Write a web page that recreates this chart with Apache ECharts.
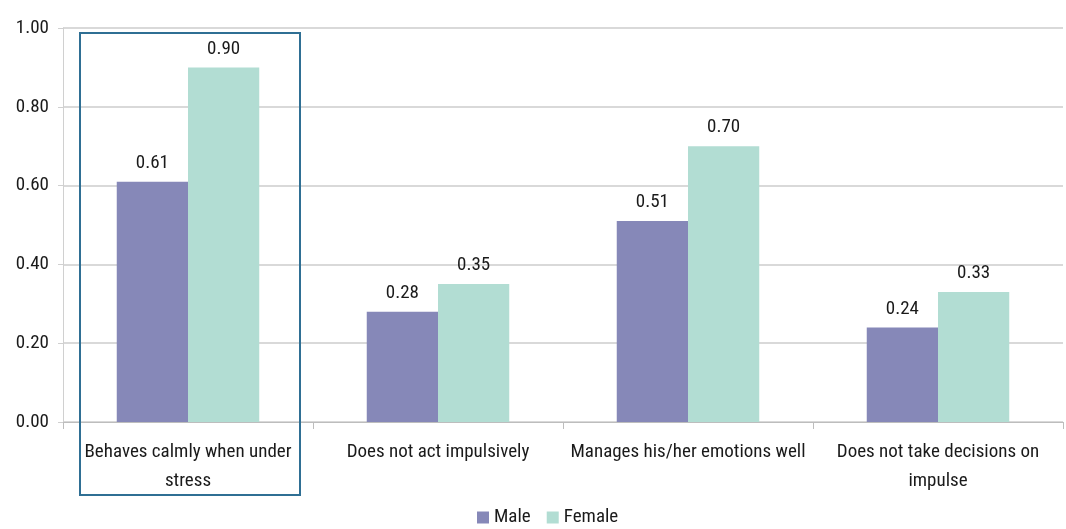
<!DOCTYPE html>
<html><head><meta charset="utf-8">
<script src="https://cdn.jsdelivr.net/npm/echarts@6/dist/echarts.min.js"></script>
<style>html,body{margin:0;padding:0;background:#fff}#c{width:1066px;height:529px}</style>
</head><body><div id="c"></div>
<script>
var categories = ['Behaves calmly when under\nstress', 'Does not act impulsively', 'Manages his/her emotions well', 'Does not take decisions on\nimpulse'];
var male = [0.61, 0.28, 0.51, 0.24];
var female = [0.90, 0.35, 0.70, 0.33];
var yTicks = [0, 0.2, 0.4, 0.6, 0.8, 1.0];

var FONT = '"Roboto Condensed", sans-serif';
var FS = 19;
var chart = echarts.init(document.getElementById('c'));
var lbl = {show:true, position:'top', distance:9, formatter:function(p){return p.value.toFixed(2);}, color:'#1a1a1a', fontSize:FS, fontFamily:FONT};
chart.setOption({
  animation:false,
  backgroundColor:'#fff',
  grid:{left:63, right:3, top:28, bottom:107, containLabel:false},
  legend:{bottom:-3, left:472, itemWidth:12, itemHeight:12, itemGap:16, icon:'rect',
    textStyle:{fontSize:FS, fontFamily:FONT, color:'#1a1a1a'}, data:['Male','Female']},
  xAxis:{type:'category', data:categories,
    axisLine:{lineStyle:{color:'#bdbdbd'}},
    axisTick:{show:true, length:7, lineStyle:{color:'#bdbdbd'}},
    axisLabel:{fontSize:FS, fontFamily:FONT, color:'#1a1a1a', margin:16, lineHeight:29, interval:0}},
  yAxis:{type:'value', min:0, max:1, interval:0.2,
    axisLine:{show:true, lineStyle:{color:'#d0d0d0'}},
    axisTick:{show:true, length:5, lineStyle:{color:'#d0d0d0'}},
    splitLine:{lineStyle:{color:'#d9d9d9', width:2}},
    axisLabel:{fontSize:FS, fontFamily:FONT, color:'#1a1a1a', margin:14, formatter:function(v){return v.toFixed(2);}}},
  series:[
    {name:'Male', type:'bar', data:male, itemStyle:{color:'#8688b8'}, barGap:'0%', barCategoryGap:'43%', label:lbl},
    {name:'Female', type:'bar', data:female, itemStyle:{color:'#b2ddd3'}, label:lbl}
  ]
});
// highlight box around first category
var x0 = chart.convertToPixel({xAxisIndex:0}, 0);
var yTop = chart.convertToPixel({yAxisIndex:0}, 1.0);
chart.setOption({graphic:[{type:'rect', shape:{x:x0-108, y:yTop+5, width:220, height:462},
  style:{fill:'none', stroke:'#2f6f94', lineWidth:2}, z:100}]});
</script></body></html>
